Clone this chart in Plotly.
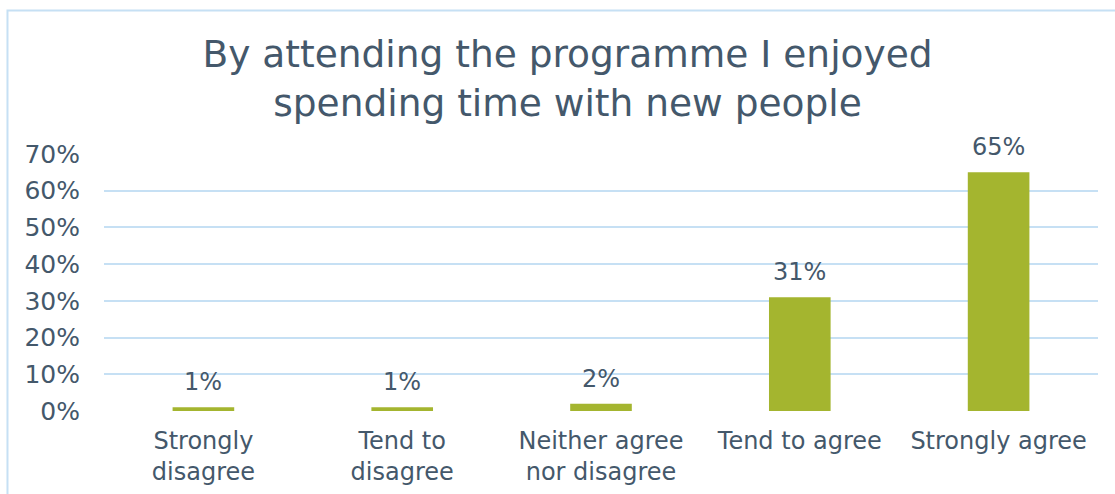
import plotly.graph_objects as go

# Survey responses: share of respondents per answer
categories = ["Strongly<br>disagree", "Tend to<br>disagree", "Neither agree<br>nor disagree",
              "Tend to agree", "Strongly agree"]
shares = [1, 1, 2, 31, 65]
share_labels = ["1%", "1%", "2%", "31%", "65%"]
y_ticks = [0, 10, 20, 30, 40, 50, 60, 70]
y_tick_labels = ["0%", "10%", "20%", "30%", "40%", "50%", "60%", "70%"]

TEXT = "#44586B"
GRID = "#C6E0F4"
BAR = "#A4B52F"
FONT = "DejaVu Sans"

fig = go.Figure(
    go.Bar(
        x=categories,
        y=shares,
        marker=dict(color=BAR, line=dict(width=0)),
        cliponaxis=False,
        hoverinfo="skip",
    )
)

# value labels sitting above each bar
for cat, val, lab in zip(categories, shares, share_labels):
    fig.add_annotation(
        x=cat,
        y=val,
        text=lab,
        showarrow=False,
        xanchor="center",
        yanchor="bottom",
        yshift=9,
        font=dict(family=FONT, size=24, color=TEXT),
    )

fig.update_layout(
    width=1115,
    height=494,
    margin=dict(l=104, r=17, t=154, b=83),
    paper_bgcolor="white",
    plot_bgcolor="white",
    bargap=0.69,
    showlegend=False,
    font=dict(family=FONT, color=TEXT),
    title=dict(
        text="By attending the programme I enjoyed<br>spending time with new people",
        x=0.509,
        xanchor="center",
        y=0.864,
        yanchor="middle",
        font=dict(family=FONT, size=37.5, color=TEXT),
    ),
    xaxis=dict(
        automargin=False,
        showgrid=False,
        showline=False,
        ticks="",
        ticklabelstandoff=13,
        tickfont=dict(family=FONT, size=24, color=TEXT),
    ),
    yaxis=dict(
        automargin=False,
        range=[0, 70],
        tickvals=y_ticks,
        ticktext=y_tick_labels,
        showgrid=True,
        gridcolor=GRID,
        gridwidth=2,
        zeroline=False,
        showline=False,
        ticks="outside",
        ticklen=18,
        tickcolor="rgba(0,0,0,0)",
        tickfont=dict(family=FONT, size=25, color=TEXT),
    ),
    shapes=[
        dict(
            type="rect",
            xref="paper",
            yref="paper",
            x0=-0.0971,
            x1=1.2,
            y0=-1.0,
            y1=1.558,
            line=dict(color=GRID, width=2),
            fillcolor="rgba(0,0,0,0)",
            layer="below",
        )
    ],
)

fig.write_html("out.html")
